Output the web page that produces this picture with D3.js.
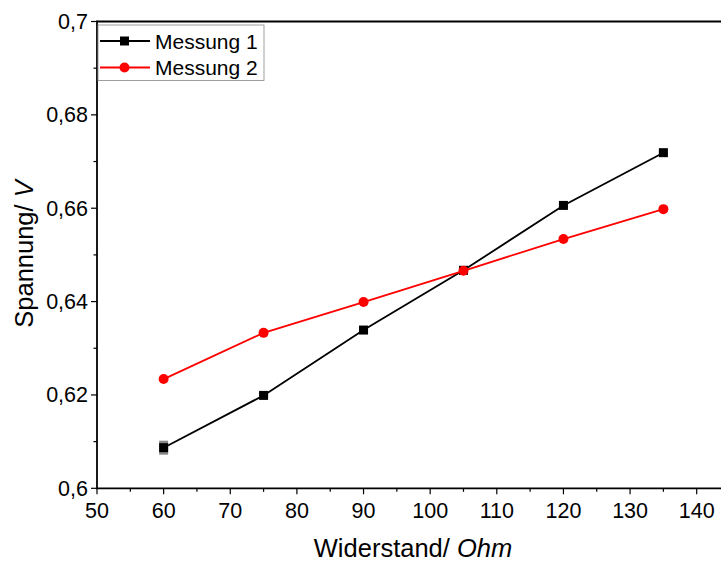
<!DOCTYPE html>
<html>
<head>
<meta charset="utf-8">
<script src="https://cdn.jsdelivr.net/npm/d3@7"></script>
<style>
  body { margin: 0; background: #fff; }
  svg { font-family: "Liberation Sans", Arial, sans-serif; }
</style>
</head>
<body>
<svg id="chart" width="721" height="562"></svg>
<script>
// data
var widerstand = [60, 75, 90, 105, 120, 135];
var messung1 = [0.6087, 0.6199, 0.6339, 0.6467, 0.6606, 0.6719];
var messung1Err = [0.0015, 0.0005, 0.0005, 0.0005, 0.0005, 0.0005];
var messung2 = [0.6234, 0.6333, 0.6399, 0.6466, 0.6534, 0.6598];
var xTicks = [50, 60, 70, 80, 90, 100, 110, 120, 130, 140];
var yTicks = [0.6, 0.62, 0.64, 0.66, 0.68, 0.7];

var svg = d3.select('#chart');
var mLeft = 97, mTop = 21.5, mBottom = 488.3;

var x = d3.scaleLinear().domain([50, 140]).range([mLeft, 696.7]);
var y = d3.scaleLinear().domain([0.6, 0.7]).range([mBottom, mTop]);

var fmt = function(d) { return d3.format('.2~f')(d).replace('.', ','); };

// frame: top line
svg.append('line')
    .attr('x1', mLeft).attr('x2', 721)
    .attr('y1', mTop).attr('y2', mTop)
    .attr('stroke', '#000').attr('stroke-width', 1.8);

// x axis
var xAxis = svg.append('g').attr('transform', 'translate(0,' + mBottom + ')');
xAxis.append('line').attr('x1', mLeft).attr('x2', 721)
    .attr('stroke', '#000').attr('stroke-width', 1.8);
xAxis.selectAll('.minor').data(d3.range(55, 145, 10)).enter()
    .append('line')
    .attr('x1', function(d) { return x(d); }).attr('x2', function(d) { return x(d); })
    .attr('y1', 0).attr('y2', 3.5)
    .attr('stroke', '#000').attr('stroke-width', 1.2);
xAxis.selectAll('.major').data(xTicks).enter()
    .append('line')
    .attr('x1', function(d) { return x(d); }).attr('x2', function(d) { return x(d); })
    .attr('y1', 0).attr('y2', 6)
    .attr('stroke', '#000').attr('stroke-width', 1.2);
xAxis.selectAll('.lbl').data(xTicks).enter()
    .append('text')
    .attr('x', function(d) { return x(d); })
    .attr('y', 30)
    .attr('text-anchor', 'middle')
    .attr('font-size', '21.5px')
    .text(function(d) { return d; });

// y axis
var yAxis = svg.append('g').attr('transform', 'translate(' + mLeft + ',0)');
yAxis.append('line').attr('y1', mTop - 0.9).attr('y2', mBottom + 0.9)
    .attr('stroke', '#000').attr('stroke-width', 1.8);
yAxis.selectAll('.minor').data([0.61, 0.63, 0.65, 0.67, 0.69]).enter()
    .append('line')
    .attr('y1', function(d) { return y(d); }).attr('y2', function(d) { return y(d); })
    .attr('x1', 0).attr('x2', -3.5)
    .attr('stroke', '#000').attr('stroke-width', 1.2);
yAxis.selectAll('.major').data(yTicks).enter()
    .append('line')
    .attr('y1', function(d) { return y(d); }).attr('y2', function(d) { return y(d); })
    .attr('x1', 0).attr('x2', -6)
    .attr('stroke', '#000').attr('stroke-width', 1.2);
yAxis.selectAll('.lbl').data(yTicks).enter()
    .append('text')
    .attr('x', -9)
    .attr('y', function(d) { return y(d) + 7.5; })
    .attr('text-anchor', 'end')
    .attr('font-size', '21.5px')
    .text(fmt);

// axis titles
var xt = svg.append('text')
    .attr('x', 413).attr('y', 557)
    .attr('text-anchor', 'middle')
    .attr('font-size', '25.5px');
xt.append('tspan').text('Widerstand/ ');
xt.append('tspan').attr('font-style', 'italic').text('Ohm');

var yt = svg.append('text')
    .attr('transform', 'translate(33,254) rotate(-90)')
    .attr('text-anchor', 'middle')
    .attr('font-size', '25.5px');
yt.append('tspan').text('Spannung/ ');
yt.append('tspan').attr('font-style', 'italic').text('V');

// series
var line = d3.line()
    .x(function(d) { return x(d[0]); })
    .y(function(d) { return y(d[1]); });

var pts1 = widerstand.map(function(d, i) { return [d, messung1[i]]; });
var pts2 = widerstand.map(function(d, i) { return [d, messung2[i]]; });

svg.append('path').datum(pts1).attr('d', line)
    .attr('fill', 'none').attr('stroke', '#000').attr('stroke-width', 1.8);
svg.append('path').datum(pts2).attr('d', line)
    .attr('fill', 'none').attr('stroke', '#ff0000').attr('stroke-width', 1.8);

// error bars on Messung 1
svg.selectAll('.err').data(widerstand).enter()
    .append('line')
    .attr('x1', function(d) { return x(d); }).attr('x2', function(d) { return x(d); })
    .attr('y1', function(d, i) { return y(messung1[i] - messung1Err[i]); })
    .attr('y2', function(d, i) { return y(messung1[i] + messung1Err[i]); })
    .attr('stroke', '#888').attr('stroke-width', 9);

svg.selectAll('.sq').data(pts1).enter()
    .append('rect')
    .attr('x', function(d) { return x(d[0]) - 4.5; })
    .attr('y', function(d) { return y(d[1]) - 4.5; })
    .attr('width', 9).attr('height', 9)
    .attr('fill', '#000');

svg.selectAll('.ci').data(pts2).enter()
    .append('circle')
    .attr('cx', function(d) { return x(d[0]); })
    .attr('cy', function(d) { return y(d[1]); })
    .attr('r', 5)
    .attr('fill', '#ff0000');

// legend
var legend = svg.append('g');
legend.append('rect')
    .attr('x', mLeft + 1).attr('y', 25)
    .attr('width', 166).attr('height', 55.5)
    .attr('fill', '#fff').attr('stroke', '#888').attr('stroke-width', 0.8);
var legendData = [
    {name: 'Messung 1', color: '#000', shape: 'square'},
    {name: 'Messung 2', color: '#ff0000', shape: 'circle'}
];
legendData.forEach(function(d, i) {
    var cy = 41 + i * 26.5;
    legend.append('line')
        .attr('x1', 100).attr('x2', 150)
        .attr('y1', cy).attr('y2', cy)
        .attr('stroke', d.color).attr('stroke-width', 1.8);
    if (d.shape === 'square') {
        legend.append('rect').attr('x', 124.5 - 4.5).attr('y', cy - 4.5)
            .attr('width', 9).attr('height', 9).attr('fill', d.color);
    } else {
        legend.append('circle').attr('cx', 124.5).attr('cy', cy).attr('r', 5).attr('fill', d.color);
    }
    legend.append('text')
        .attr('x', 155).attr('y', cy + 7.5)
        .attr('font-size', '21px')
        .text(d.name);
});
</script>
</body>
</html>
